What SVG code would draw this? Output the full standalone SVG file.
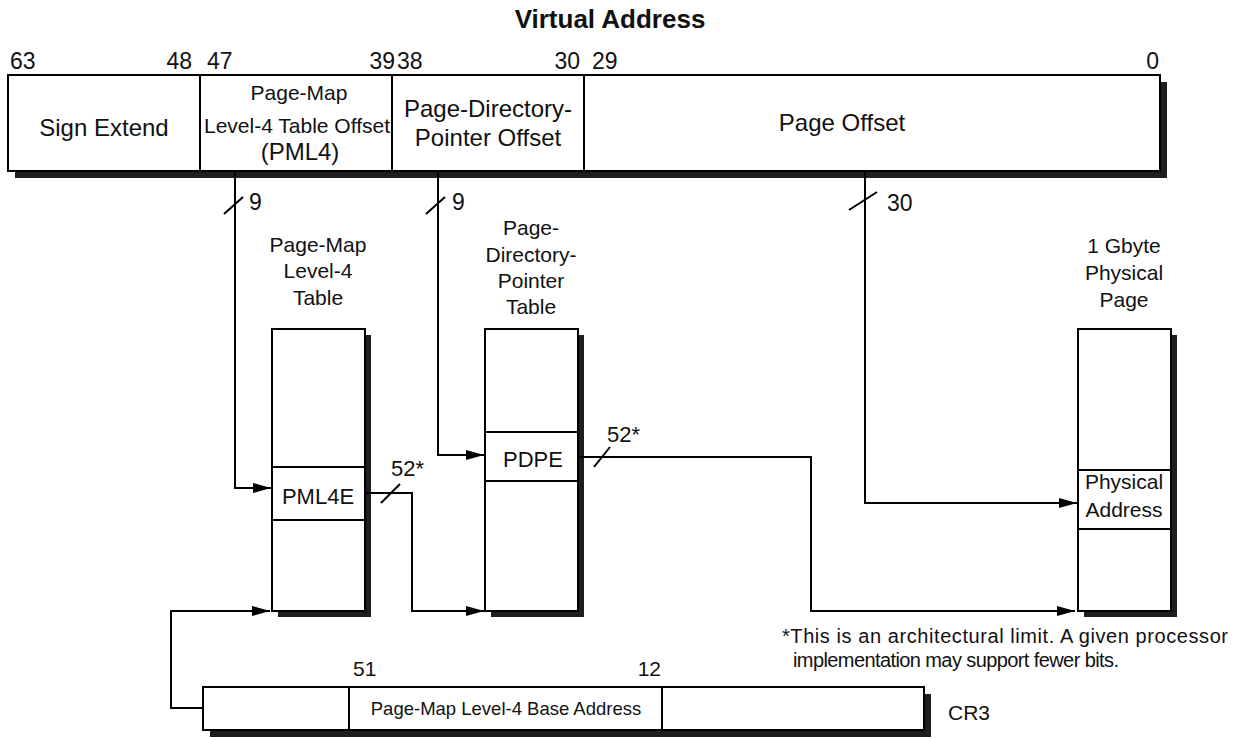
<svg xmlns="http://www.w3.org/2000/svg" width="1237" height="738" viewBox="0 0 1237 738">
<defs>
<marker id="arr" markerUnits="userSpaceOnUse" markerWidth="18" markerHeight="10" refX="18" refY="5" orient="auto"><path d="M0,0 L18,5 L0,10 z" fill="#000"/></marker>
</defs>
<style>
text{font-family:"Liberation Sans",Arial,Helvetica,sans-serif;fill:#111}
.box{fill:#fff;stroke:#000;stroke-width:2}
.sh{fill:#1e1e1e}
.ln{fill:none;stroke:#000;stroke-width:2}
.ar{marker-end:url(#arr)}
.c{text-anchor:middle}
.e{text-anchor:end}
.t{font-size:26px;font-weight:bold}
.b{font-size:23px}
.f24{font-size:24px}
.f21{font-size:21px}
.f22{font-size:22px}
.f19{font-size:18.5px}
.fn{font-size:20px}
</style>
<rect width="1237" height="738" fill="#fff"/>

<g id="title">
<text class="t c" x="610" y="28">Virtual Address</text>
</g>

<g id="virtual-address">
<rect class="sh" x="15" y="82" width="1152" height="96"/>
<rect class="box" x="8" y="75" width="1152" height="96"/>
<line class="ln" x1="200" y1="75" x2="200" y2="171"/>
<line class="ln" x1="392" y1="75" x2="392" y2="171"/>
<line class="ln" x1="584" y1="75" x2="584" y2="171"/>
<text class="b" x="10" y="69">63</text>
<text class="b e" x="192" y="69">48</text>
<text class="b" x="207" y="69">47</text>
<text class="b e" x="395" y="69">39</text>
<text class="b" x="397" y="69">38</text>
<text class="b e" x="580" y="69">30</text>
<text class="b" x="592" y="69">29</text>
<text class="b e" x="1159" y="69">0</text>
<text class="f24 c" x="104" y="136">Sign Extend</text>
<text class="f21 c" x="299" y="100">Page-Map</text>
<text class="f21 c" x="297" y="133">Level-4 Table Offset</text>
<text class="f24 c" x="300" y="160">(PML4)</text>
<text class="f24 c" x="488" y="117">Page-Directory-</text>
<text class="f24 c" x="488" y="146">Pointer Offset</text>
<text class="f24 c" x="842" y="131">Page Offset</text>
</g>

<g id="pml4-table">
<text class="f21 c" x="318" y="252">Page-Map</text>
<text class="f21 c" x="318" y="278">Level-4</text>
<text class="f21 c" x="318" y="305">Table</text>
<rect class="sh" x="278" y="335" width="93" height="282"/>
<rect class="box" x="272" y="329" width="93" height="282"/>
<rect class="box" x="272" y="467" width="93" height="53"/>
<text class="f22 c" x="318" y="504">PML4E</text>
</g>

<g id="pdp-table">
<text class="f21 c" x="531" y="235">Page-</text>
<text class="f21 c" x="531" y="262">Directory-</text>
<text class="f21 c" x="531" y="288">Pointer</text>
<text class="f21 c" x="531" y="314">Table</text>
<rect class="sh" x="491" y="335" width="93" height="282"/>
<rect class="box" x="485" y="329" width="93" height="282"/>
<rect class="box" x="485" y="432" width="93" height="49"/>
<text class="f22 c" x="533" y="467">PDPE</text>
</g>

<g id="physical-page">
<text class="f21 c" x="1124" y="253">1 Gbyte</text>
<text class="f21 c" x="1124" y="280">Physical</text>
<text class="f21 c" x="1124" y="307">Page</text>
<rect class="sh" x="1084" y="335" width="93" height="282"/>
<rect class="box" x="1078" y="329" width="93" height="282"/>
<rect class="box" x="1078" y="470" width="93" height="59"/>
<text class="f21 c" x="1124" y="489">Physical</text>
<text class="f21 c" x="1124" y="517">Address</text>
</g>

<g id="cr3">
<rect class="sh" x="210" y="694" width="721" height="43"/>
<rect class="box" x="203" y="687" width="721" height="43"/>
<line class="ln" x1="349" y1="687" x2="349" y2="730"/>
<line class="ln" x1="662" y1="687" x2="662" y2="730"/>
<text class="f21" x="353" y="676">51</text>
<text class="f21 e" x="661" y="676">12</text>
<text class="f19 c" x="506" y="715">Page-Map Level-4 Base Address</text>
<text class="f21" x="948" y="720">CR3</text>
</g>

<g id="connectors">
<path class="ln ar" d="M235,171 V488 H271"/>
<path class="ln ar" d="M438,171 V455 H484"/>
<path class="ln ar" d="M865,171 V503 H1077"/>
<path class="ln ar" d="M366,493 H412 V611 H484"/>
<path class="ln ar" d="M579,457 H811 V611 H1075"/>
<path class="ln ar" d="M202,708 H171 V611 H270"/>
<line class="ln" x1="224" y1="214" x2="243" y2="197"/>
<line class="ln" x1="426" y1="214" x2="445" y2="197"/>
<line class="ln" x1="849" y1="210" x2="877" y2="192"/>
<line class="ln" x1="381" y1="503" x2="400" y2="484"/>
<line class="ln" x1="594" y1="467" x2="610" y2="447"/>
<text class="b" x="249" y="210">9</text>
<text class="b" x="452" y="210">9</text>
<text class="b" x="887" y="211">30</text>
<text class="f22" x="391" y="476">52*</text>
<text class="f22" x="607" y="442">52*</text>
</g>

<g id="footnote">
<text class="fn" x="782" y="643" textLength="446" lengthAdjust="spacing">*This is an architectural limit. A given processor</text>
<text class="fn" x="793" y="667" textLength="326" lengthAdjust="spacing">implementation may support fewer bits.</text>
</g>
</svg>
